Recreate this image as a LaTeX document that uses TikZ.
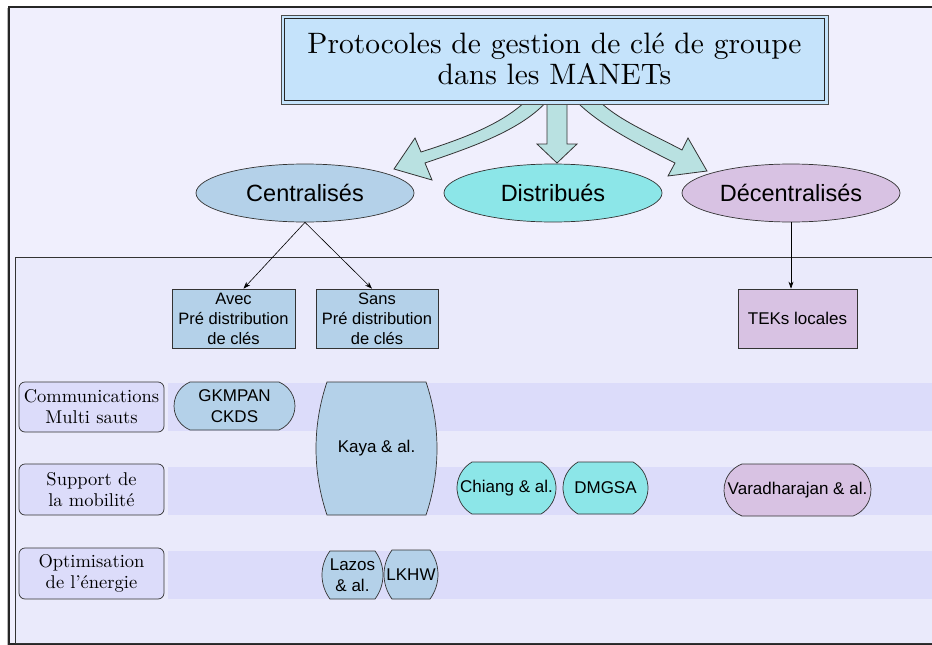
\documentclass[tikz,border=0pt]{standalone}
\usepackage{fontspec}
\setsansfont{Liberation Sans}
\newfontfamily\lmten{lmroman10-regular.otf}
\usetikzlibrary{shapes.geometric,arrows.meta}

\definecolor{bgouter}{HTML}{F0EFFD}
\definecolor{bginner}{HTML}{EAEAFB}
\definecolor{bandc}{HTML}{DCDCFA}
\definecolor{titlec}{HTML}{C5E3FB}
\definecolor{bluec}{HTML}{B4D1E9}
\definecolor{cyanc}{HTML}{8CE6E8}
\definecolor{violc}{HTML}{D8C2E3}
\definecolor{arrowc}{HTML}{B9E1E1}
\definecolor{edgec}{HTML}{333333}

\newcommand\termpath[6]{%
  \pgfmathsetmacro\thh{(#4-#2)/2}%
  \pgfmathsetmacro\trr{(\thh*\thh+#5*#5)/(2*#5)}%
  \pgfmathsetmacro\tang{asin(\thh/\trr)}%
  \draw[termline,fill=#6] (#1+#5,#2) -- (#3-#5,#2)
     arc[start angle=-\tang,end angle=\tang,radius=\trr]
     -- (#1+#5,#4)
     arc[start angle=180-\tang,end angle=180+\tang,radius=\trr] -- cycle;
}

\tikzset{
  termline/.style={draw=edgec,line width=0.7pt},
  sfbig/.style={font=\sffamily\fontsize{23.5}{28}\selectfont},
  sfmid/.style={font=\sffamily\fontsize{17}{20.5}\selectfont},
  sfbox/.style={font=\sffamily\fontsize{16.5}{20}\selectfont},
  oval/.style={ellipse,draw=edgec,line width=0.7pt,minimum width=218pt,minimum height=58pt,inner sep=0pt,sfbig},
  rbox/.style={rectangle,draw=edgec,line width=0.7pt,minimum height=59pt,inner sep=0pt,align=center,sfbox},
  lbox/.style={rectangle,rounded corners=6pt,draw=edgec,line width=0.7pt,fill=bandc,minimum width=145pt,inner sep=0pt,align=center,font=\lmten\fontsize{18.5}{21}\selectfont},
  txt/.style={inner sep=0pt,align=center,sfmid},
  conn/.style={draw=black,line width=0.6pt,-{Stealth[length=7pt,width=5pt]}},
  blockarrow/.style={draw=edgec,line width=0.8pt,fill=arrowc,line join=miter},
}

\begin{document}
\begin{tikzpicture}[x=1pt,y=-1pt]
\useasboundingbox (0,0) rectangle (932,645);
\clip (0,0) rectangle (932,645);
\fill[white] (0,0) rectangle (932,645);

% frames
\draw[gray!55,line width=1pt] (7.5,8) -- (7.5,700);
\draw[fill=bgouter,draw=black!85,line width=1.1pt] (9,7) rectangle (1000,644);
\draw[fill=bginner,draw=black!80,line width=0.8pt] (15,257) rectangle (1000,643);

% bands
\fill[bandc] (168,383) rectangle (990,431);
\fill[bandc] (168,467) rectangle (990,515);
\fill[bandc] (168,551) rectangle (990,599);

% block arrows
\draw[blockarrow] (547,100) -- (547,144) -- (537,144) -- (557,163) -- (577,144) -- (567,144) -- (567,100) -- cycle;
\draw[blockarrow] (527,100) .. controls (503,123) and (468,137) .. (421,152)
   -- (415,138) -- (394,169) -- (432,180) -- (425,163)
   .. controls (472,147) and (522,130) .. (548,100) -- cycle;
\draw[blockarrow] (575,100) .. controls (598,124) and (635,143) .. (675,163)
   -- (668,176) -- (707,171) -- (688,138) -- (682,150)
   .. controls (650,133) and (618,120) .. (598,100) -- cycle;

% title
\draw[fill=titlec,draw=black!70,line width=0.8pt] (281,15) rectangle (828,104);
\draw[draw=black!85,line width=1pt] (284.5,18.5) rectangle (824.5,100.5);
\node[inner sep=0pt,align=center,font=\lmten\fontsize{29.5}{31}\selectfont] (title) at (554.5,59) {Protocoles de gestion de clé de groupe\\dans les MANETs};

% categories
\node[oval,fill=bluec] (cent) at (305,193) {Centralisés};
\node[oval,fill=cyanc] (dist) at (553,193) {Distribués};
\node[oval,fill=violc] (dec) at (791,193) {Décentralisés};

% sub boxes
\node[rbox,fill=bluec,minimum width=123pt] (avec) at (233.5,318.5) {Avec\\Pré distribution\\de clés};
\node[rbox,fill=bluec,minimum width=122pt] (sans) at (377,318.5) {Sans\\Pré distribution\\de clés};
\node[rbox,fill=violc,minimum width=119pt,sfmid] (teks) at (797.5,318.5) {TEKs locales};

\draw[conn] (cent.south) -- ([xshift=10pt]avec.north);
\draw[conn] (cent.south) -- ([xshift=-5pt]sans.north);
\draw[conn] (dec.south) -- (dec.south |- teks.north);

% row labels
\node[lbox,minimum height=50pt] (comm) at (91.5,407) {Communications\\Multi sauts};
\node[lbox,minimum height=51pt] (mob) at (91.5,489.5) {Support de\\la mobilité};
\node[lbox,minimum height=51pt] (ener) at (91.5,573.5) {Optimisation\\de l’énergie};

% protocol shapes
\termpath{174}{382}{295}{430}{16}{bluec}
\node[txt] (gkmpan) at (234.5,406) {GKMPAN\\CKDS};
\termpath{316}{382}{437}{515}{11}{bluec}
\node[txt] (kaya) at (376.5,448.5) {Kaya \& al.};
\termpath{322}{551}{383}{599}{8}{bluec}
\node[txt] (lazos) at (352.5,575) {Lazos\\\& al.};
\termpath{384}{550}{438}{599}{8}{bluec}
\node[txt] (lkhw) at (411,574.5) {LKHW};
\termpath{457}{462}{556}{514}{15}{cyanc}
\node[txt] (chiang) at (506.5,488) {Chiang \& al.};
\termpath{563}{462}{648}{514}{15}{cyanc}
\node[txt] (dmgsa) at (605.5,488) {DMGSA};
\termpath{724}{464}{871}{516}{18}{violc}
\node[txt] (vara) at (797.5,490) {Varadharajan \& al.};
\end{tikzpicture}
\end{document}
